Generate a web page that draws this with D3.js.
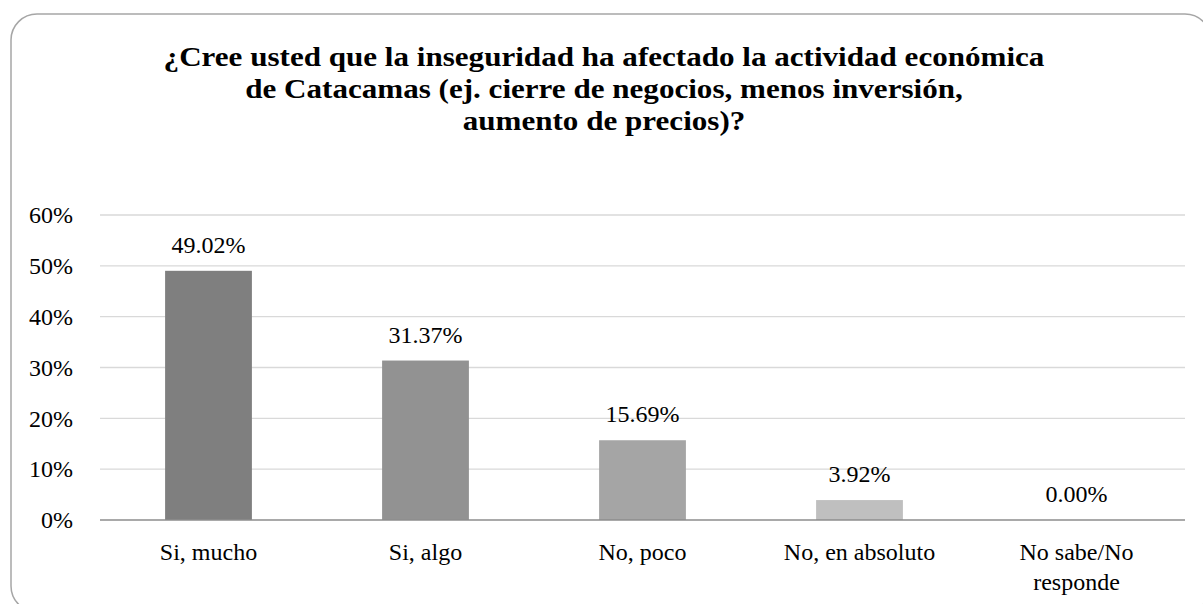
<!DOCTYPE html>
<html>
<head>
<meta charset="utf-8">
<script src="https://cdn.jsdelivr.net/npm/d3@7"></script>
<style>
  body { margin: 0; background: #fff; }
  svg text { font-family: "Liberation Serif", "Times New Roman", Times, "DejaVu Serif", serif; }
</style>
</head>
<body>
<div id="chart"></div>
<script>
// Data
const categories = ["Si, mucho", "Si, algo", "No, poco", "No, en absoluto", "No sabe/No responde"];
const values = [49.02, 31.37, 15.69, 3.92, 0.00];
const barColors = ["#7f7f7f", "#929292", "#a5a5a5", "#bfbfbf", "#d4d4d4"];
const yTicks = [0, 10, 20, 30, 40, 50, 60];
const titleLines = [
    "¿Cree usted que la inseguridad ha afectado la actividad económica",
    "de Catacamas (ej. cierre de negocios, menos inversión,",
    "aumento de precios)?"
];

const svgWidth = 1203;
const svgHeight = 604;
const margin = { top: 215, right: 18, bottom: 84, left: 100 };
const serif = "'Liberation Serif', 'Times New Roman', Times, 'DejaVu Serif', serif";

const svg = d3.select("#chart").append("svg")
    .attr("width", svgWidth)
    .attr("height", svgHeight);

// Rounded frame
svg.append("rect")
    .attr("x", 11).attr("y", 14)
    .attr("width", 1200).attr("height", 598)
    .attr("rx", 26).attr("ry", 26)
    .attr("fill", "#fff")
    .attr("stroke", "#a6a6a6")
    .attr("stroke-width", 1.5);

// Title (slightly stretched horizontally like the source image)
const titleX = 604;
svg.append("g")
    .attr("transform", `translate(${titleX},0) scale(1.11,1)`)
    .append("text")
    .attr("text-anchor", "middle")
    .style("font-family", serif)
    .style("font-weight", "bold")
    .style("font-size", "28px")
    .selectAll("tspan")
    .data(titleLines)
    .enter().append("tspan")
    .attr("x", 0)
    .attr("y", (d, i) => 66 + i * 32)
    .text(d => d);

const x = d3.scaleBand()
    .domain(categories)
    .range([margin.left, svgWidth - margin.right])
    .paddingInner(0.6)
    .paddingOuter(0.3);

const y = d3.scaleLinear()
    .domain([0, 60])
    .range([svgHeight - margin.bottom, margin.top]);

// Gridlines
svg.append("g")
    .selectAll("line")
    .data(yTicks.filter(d => d > 0))
    .enter().append("line")
    .attr("x1", margin.left)
    .attr("x2", svgWidth - margin.right)
    .attr("y1", d => y(d))
    .attr("y2", d => y(d))
    .attr("stroke", "#d9d9d9")
    .attr("stroke-width", 1.3);

// Y axis labels
const yAxis = d3.axisLeft(y)
    .tickValues(yTicks)
    .tickFormat(d => d + "%")
    .tickSize(0)
    .tickPadding(27);

svg.append("g")
    .attr("transform", `translate(${margin.left},0)`)
    .call(yAxis)
    .call(g => g.select(".domain").remove())
    .call(g => g.selectAll("text")
        .style("font-family", serif)
        .style("font-size", "24px")
        .attr("fill", "#000"));

// Bars
svg.selectAll(".bar")
    .data(values)
    .enter().append("rect")
    .attr("class", "bar")
    .attr("x", (d, i) => x(categories[i]))
    .attr("y", d => y(d))
    .attr("width", x.bandwidth())
    .attr("height", d => y(0) - y(d))
    .attr("fill", (d, i) => barColors[i]);

// Value labels
svg.selectAll(".val")
    .data(values)
    .enter().append("text")
    .attr("class", "val")
    .attr("x", (d, i) => x(categories[i]) + x.bandwidth() / 2)
    .attr("y", d => y(d) - 18)
    .attr("text-anchor", "middle")
    .style("font-family", serif)
    .style("font-size", "24px")
    .text(d => d.toFixed(2) + "%");

// X axis line
svg.append("line")
    .attr("x1", margin.left)
    .attr("x2", svgWidth - margin.right)
    .attr("y1", y(0))
    .attr("y2", y(0))
    .attr("stroke", "#8c8c8c")
    .attr("stroke-width", 1.5);

// Category labels (wrapped)
const catLines = {
    "No sabe/No responde": ["No sabe/No", "responde"]
};
svg.selectAll(".cat")
    .data(categories)
    .enter().append("text")
    .attr("class", "cat")
    .attr("text-anchor", "middle")
    .style("font-family", serif)
    .style("font-size", "24px")
    .each(function (d) {
        const lines = catLines[d] || [d];
        const cx = x(d) + x.bandwidth() / 2;
        d3.select(this).selectAll("tspan")
            .data(lines)
            .enter().append("tspan")
            .attr("x", cx)
            .attr("y", (l, i) => 560 + i * 30)
            .text(l => l);
    });
</script>
</body>
</html>
